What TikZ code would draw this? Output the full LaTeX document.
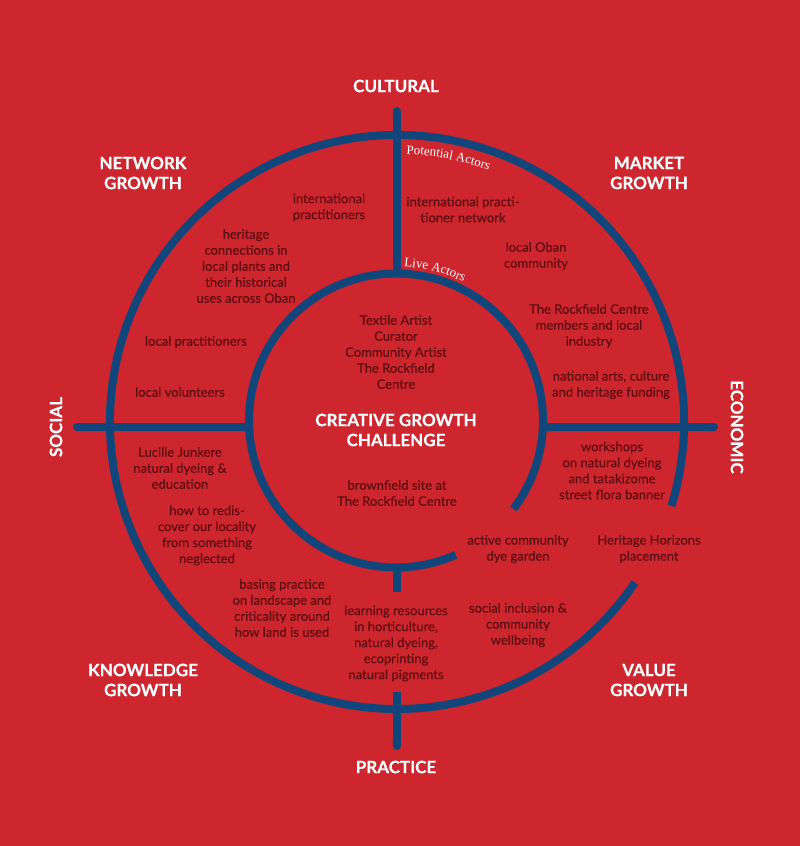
\documentclass[tikz,border=0pt]{standalone}
\usepackage{fontspec}
\setmainfont{Lato}
\newfontfamily\bodyfont{Lato}[BoldFont=Lato,BoldFeatures={FakeBold=0.4}]
\newfontfamily\headfont{Lato}[BoldFeatures={FakeBold=0.4}]
\newfontfamily\actorfont{Liberation Serif}
\usetikzlibrary{arrows.meta,calc,decorations.text}
\definecolor{bgred}{HTML}{CE262E}
\definecolor{ringblue}{HTML}{10467A}
\definecolor{textred}{HTML}{5C0E13}
\begin{document}
\begin{tikzpicture}[x=1pt,y=1pt,
    ring/.style={draw=ringblue,line width=8pt},
    head/.style={text=white,font=\headfont\bfseries\fontsize{17}{20}\selectfont,align=center,inner sep=0pt},
    body/.style={text=textred,font=\bodyfont\bfseries\fontsize{13}{16}\selectfont,align=center,inner sep=0pt},
    actors/.style={postaction={decorate},decoration={text along path,text align=left,
      text color=white,text={|\actorfont\fontsize{13}{15}\selectfont|#1}}}]
      \fill[bgred] (-397,-424) rectangle (403,422);
      \coordinate (ic) at (-1,1.5);
      \coordinate (top) at (0,315);
      \coordinate (bottom) at (0,-328);
      \coordinate (left) at (-324,-5);
      \coordinate (right) at (321,-5);
      \coordinate (itop) at (0,148.5);
      \coordinate (ibot) at (0,-145.5);
      \coordinate (ileft) at (-147.9,-5);
      \coordinate (iright) at (145.9,-5);
      % rings
      \draw[ring] (-17:287) arc[start angle=-17,end angle=326,radius=287];
      \draw[ring] ($(ic)+(-37:147)$) arc[start angle=-37,end angle=294,radius=147];
      \begin{scope}[ring]
        \draw[{Round Cap}-] (top) to (itop);
        \draw[{Round Cap}-] (left) to (ileft);
        \draw[-{Round Cap}] (iright) to (right);
        \draw (ibot) to (0,-170);
        \draw[-{Round Cap}] (0,-270) to (bottom);
      \end{scope}
      \path[actors={Potential Actors}] (88:268) arc[start angle=88,end angle=50,radius=268];
      \path[actors={Live Actors}] ($(ic)+(87:154)$) arc[start angle=87,end angle=40,radius=154];
      % headings
      \node[head] (cultural) at (-1,336) {CULTURAL};
      \node[head] (network) at (-254,249) {NETWORK\\GROWTH};
      \node[head] (market) at (252,249) {MARKET\\GROWTH};
      \node[head,rotate=90] (social) at (-341,-5) {SOCIAL};
      \node[head,rotate=-90] (economic) at (340,-5) {ECONOMIC};
      \node[head] (knowledge) at (-254,-258) {KNOWLEDGE\\GROWTH};
      \node[head] (value) at (252,-258) {VALUE\\GROWTH};
      \node[head] (practice) at (-1,-345) {PRACTICE};
      \node[head] (challenge) at (-1,-8) {CREATIVE GROWTH\\CHALLENGE};
      % actors and resources
      \node[body] (intlprac) at (-68,214.5) {international\\practitioners};
      \node[body] (intlnet) at (66,212.5) {international practi-\\tioner network};
      \node[body] (heritage) at (-151,156) {heritage\\connections in\\local plants and\\their historical\\uses across Oban};
      \node[body] (oban) at (139,166) {local Oban\\community};
      \node[body] (members) at (192,96) {The Rockfield Centre\\members and local\\industry};
      \node[body] (localprac) at (-201,80) {local practitioners};
      \node[body] (volunteers) at (-217,30) {local volunteers};
      \node[body] (funding) at (214,37) {national arts, culture\\and heritage funding};
      \node[body] (live) at (-1,70) {Textile Artist\\Curator\\Community Artist\\The Rockfield\\Centre};
      \node[body] (workshops) at (215,-48.5) {workshops\\on natural dyeing\\and tatakizome\\street flora banner};
      \node[body] (lucille) at (-217,-46) {Lucille Junkere\\natural dyeing \&\\education};
      \node[body] (brownfield) at (0,-71) {brownfield site at\\The Rockfield Centre};
      \node[body] (rediscover) at (-190,-113.5) {how to redis-\\cover our locality\\from something\\neglected};
      \node[body] (dyegarden) at (121,-127) {active community\\dye garden};
      \node[body] (horizons) at (252,-127) {Heritage Horizons\\placement};
      \node[body] (basing) at (-115,-186) {basing practice\\on landscape and\\criticality around\\how land is used};
      \node[body] (learning) at (-1,-221.5) {learning resources\\in horticulture,\\natural dyeing,\\ecoprinting\\natural pigments};
      \node[body] (inclusion) at (121,-203) {social inclusion \&\\community\\wellbeing};
    \end{tikzpicture}
\end{document}
